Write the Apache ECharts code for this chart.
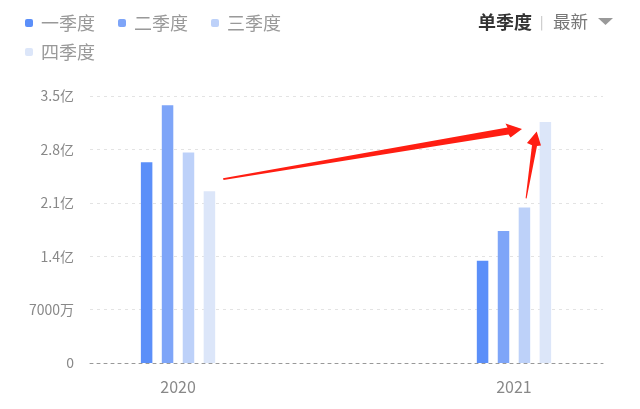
<!DOCTYPE html>
<html><head><meta charset="utf-8">
<script src="https://cdn.jsdelivr.net/npm/echarts@6/dist/echarts.min.js"></script>
<style>html,body{margin:0;padding:0;background:#fff}#c{width:640px;height:409px}</style>
</head><body><div id="c"></div>
<script>
const years = ['2020', '2021'];
const seriesNames = ['一季度', '二季度', '三季度', '四季度'];
// values in 亿
const q1 = [2.63, 1.34];
const q2 = [3.38, 1.73];
const q3 = [2.76, 2.04];
const q4 = [2.25, 3.16];
const yTicks = [0, 0.7, 1.4, 2.1, 2.8, 3.5];
const colors = ['#5B8FF9', '#7EA5F8', '#BDD1F9', '#DCE6F9'];

const FONT = "'Noto Sans CJK SC', 'Noto Sans', sans-serif";
const chart = echarts.init(document.getElementById('c'), null, {renderer: 'canvas'});
const allSeries = [q1, q2, q3, q4];

function yFmt(v) {
  if (v === 0) return '0';
  if (v < 1) return Math.round(v * 10000) + '万';
  return (Math.round(v * 10) / 10).toFixed(1) + '亿';
}

const legendCommon = {
  icon: 'roundRect', itemWidth: 8, itemHeight: 8, itemGap: 23, padding: 0,
  selectedMode: false,
  textStyle: {color: '#999', fontSize: 18, fontFamily: FONT, padding: [0, 0, 0, 3]}
};

chart.setOption({
  animation: false,
  textStyle: {fontFamily: FONT},
  color: colors,
  legend: [
    Object.assign({left: 25, top: 14, data: seriesNames.slice(0, 3)}, legendCommon),
    Object.assign({left: 25, top: 43, data: seriesNames.slice(3)}, legendCommon)
  ],
  grid: {left: 90, right: 37, top: 96, bottom: 46, containLabel: false},
  xAxis: {
    type: 'value', min: -0.262, max: 1.265,
    axisLine: {show: true, lineStyle: {color: '#999', type: [3, 4], width: 1}},
    axisTick: {show: false},
    splitLine: {show: false},
    axisLabel: {
      customValues: [0, 1], color: '#888', fontSize: 16, margin: 16,
      formatter: v => years[Math.round(v)] || ''
    }
  },
  yAxis: {
    type: 'value', min: 0, max: 3.5, interval: 0.7,
    axisLine: {show: false}, axisTick: {show: false},
    splitLine: {lineStyle: {color: '#e3e3e3', type: [3, 4]}},
    axisLabel: {color: '#888', fontSize: 14, margin: 16, formatter: yFmt}
  },
  series: allSeries.map((arr, k) => ({
    name: seriesNames[k], type: 'bar', barWidth: 11.5, barGap: '82%',
    itemStyle: {color: colors[k]},
    data: arr.map((v, i) => [i, v])
  })),
  graphic: [
    {type: 'text', left: 478, top: 13, style: {text: '单季度', fontSize: 18, fontWeight: 'bold', fill: '#333', fontFamily: FONT}},
    {type: 'text', left: 540, top: 16, style: {text: '|', fontSize: 13, fill: '#bbb', fontFamily: FONT}},
    {type: 'text', left: 553, top: 13, style: {text: '最新', fontSize: 17.5, fill: '#777', fontFamily: FONT}},
    {type: 'polygon', shape: {points: [[598, 18], [613, 18], [605.5, 25]]}, style: {fill: '#999'}},
    {type: 'polygon', z: 100, shape: {points: [[223, 178.2], [507.5, 127.4], [505.5, 123.5], [522, 129], [510.5, 137.5], [508.5, 134.6], [223.5, 179.9]]}, style: {fill: '#FF1E12'}},
    {type: 'polygon', z: 100, shape: {points: [[525.6, 198.3], [532, 145.3], [527, 143], [536.7, 131.5], [541, 145.5], [537, 146], [526.6, 198.5]]}, style: {fill: '#FF1E12'}}
  ]
});
</script></body></html>
